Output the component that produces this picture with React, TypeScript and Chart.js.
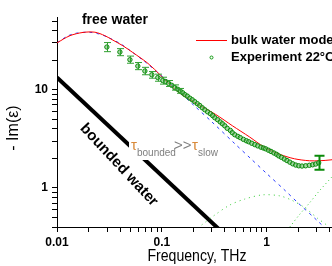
import React, { useEffect, useRef } from 'react';
import { Chart, registerables } from 'chart.js';

Chart.register(...registerables);

// ---- data ----
const modelFreq = [0.01, 0.0133, 0.0177, 0.023, 0.0286, 0.0341, 0.0425, 0.0529, 0.072, 0.0896, 0.107, 0.145, 0.206, 0.326, 0.47, 0.687, 0.95, 1.33, 1.84, 2.55, 3.17, 4.1, 5];
const modelVal = [30.0, 35.5, 38.3, 38.5, 35.5, 32.0, 28.0, 23.9, 18.9, 15.3, 12.6, 9.4, 7.4, 5.6, 4.3, 3.3, 2.6, 2.2, 1.98, 1.89, 1.89, 1.93, 2.0];

const slowFreq = [0.01, 0.0125, 0.015, 0.02, 0.025, 0.03, 0.04, 0.05, 0.07, 0.1, 0.15, 0.2, 0.3, 0.5, 0.7, 1, 1.5, 2, 3, 4, 5];
const slowVal = [30, 35, 37.5, 38.5, 37, 34.5, 29.5, 25, 19, 13.8, 9.3, 7.0, 4.7, 2.8, 2.0, 1.4, 0.94, 0.7, 0.47, 0.35, 0.28];

const fastFreq = [0.24, 0.32, 0.445, 0.617, 0.916, 1.33, 1.73, 2.3, 3.06, 3.81, 5];
const fastVal = [0.42, 0.53, 0.67, 0.77, 0.85, 0.83, 0.75, 0.63, 0.49, 0.41, 0.3];

const resFreq = [1.66, 2.04, 2.55, 3.17, 4.09, 5];
const resVal = [0.40, 0.53, 0.70, 0.93, 1.26, 1.6];

const boundFreq = [0.01, 0.4];
const boundVal = [13.3, 0.333];

const expFreq = [0.0299, 0.0398, 0.0496, 0.059, 0.0689, 0.0803, 0.0915, 0.102, 0.109, 0.116, 0.124, 0.133, 0.142, 0.15, 0.158, 0.166, 0.175, 0.185, 0.195, 0.206, 0.218, 0.23, 0.243, 0.257, 0.273, 0.29, 0.305, 0.32, 0.34, 0.36, 0.378, 0.398, 0.42, 0.45, 0.47, 0.496, 0.53, 0.56, 0.6, 0.64, 0.674, 0.72, 0.77, 0.82, 0.88, 0.93, 0.978, 1.04, 1.1, 1.17, 1.24, 1.3, 1.38, 1.47, 1.56, 1.66, 1.77, 1.89, 2.02, 2.17, 2.35, 2.55, 2.74, 2.93, 3.13];
const expVal = [27.2, 24.2, 20.2, 17.4, 15.5, 14.2, 13.3, 12.4, 12.1, 11.6, 11.1, 10.5, 10.1, 9.7, 9.3, 8.9, 8.6, 8.2, 7.9, 7.55, 7.2, 6.9, 6.55, 6.25, 5.95, 5.7, 5.45, 5.18, 4.95, 4.7, 4.5, 4.29, 4.05, 3.85, 3.65, 3.48, 3.35, 3.25, 3.12, 3.02, 2.95, 2.85, 2.76, 2.68, 2.6, 2.55, 2.5, 2.42, 2.35, 2.27, 2.2, 2.12, 2.05, 1.97, 1.9, 1.83, 1.76, 1.71, 1.68, 1.67, 1.68, 1.70, 1.72, 1.75, 1.80];

const errFreq = [0.0299, 0.0398, 0.0496, 0.059, 0.0689, 0.0803, 0.0915, 0.102, 0.116, 0.133, 0.15, 3.13];
const errLow = [24.4, 22.2, 18.6, 16.0, 14.2, 13.1, 12.2, 11.4, 10.8, 9.9, 9.2, 1.53];
const errHigh = [30.2, 26.2, 22.0, 18.9, 16.9, 15.3, 14.4, 13.4, 12.4, 11.2, 10.3, 2.12];

const xTicks = [0.01, 0.02, 0.03, 0.04, 0.05, 0.06, 0.07, 0.08, 0.09, 0.1, 0.2, 0.3, 0.4, 0.5, 0.6, 0.7, 0.8, 0.9, 1, 2, 3, 4, 5];
const xLabelValues = [0.01, 0.1, 1];
const xLabelTexts = ['0.01', '0.1', '1'];
const yTicks = [0.4, 0.5, 0.6, 0.7, 0.8, 0.9, 1, 2, 3, 4, 5, 6, 7, 8, 9, 10, 20, 30, 40, 50];
const yLabelValues = [1, 10];
const yLabelTexts = ['1', '10'];

const FONT = '"Liberation Sans", Arial, Helvetica, sans-serif';

const pts = (xs: number[], ys: number[]) => xs.map((x, i) => ({ x, y: ys[i] }));
const labelFor = (vals: number[], texts: string[]) => (v: any) => {
  const i = vals.findIndex((t) => Math.abs(t - Number(v)) < 1e-9);
  return i >= 0 ? texts[i] : '';
};

const overlay = {
  id: 'overlay',
  afterDatasetsDraw(chart: any) {
    const { ctx } = chart;
    const xs = chart.scales.x;
    const ys = chart.scales.y;
    ctx.save();
    for (let i = 0; i < errFreq.length; i++) {
      const px = Math.round(xs.getPixelForValue(errFreq[i])) + 0.5;
      const pl = ys.getPixelForValue(errLow[i]);
      const ph = ys.getPixelForValue(errHigh[i]);
      const last = i === errFreq.length - 1;
      ctx.strokeStyle = last ? '#0a8a0a' : '#2f9f2f';
      ctx.lineWidth = last ? 2 : 1;
      const cap = last ? 5 : 3.5;
      ctx.beginPath();
      ctx.moveTo(px, pl);
      ctx.lineTo(px, ph);
      ctx.moveTo(px - cap, pl);
      ctx.lineTo(px + cap, pl);
      ctx.moveTo(px - cap, ph);
      ctx.lineTo(px + cap, ph);
      ctx.stroke();
    }
    ctx.restore();
  },
  afterDraw(chart: any) {
    const { ctx } = chart;
    ctx.save();
    ctx.textBaseline = 'middle';
    // free water
    ctx.fillStyle = '#000';
    ctx.textAlign = 'center';
    ctx.font = `bold 14px ${FONT}`;
    ctx.fillText('free water', 115, 20);
    // legend
    ctx.strokeStyle = '#ff0000';
    ctx.lineWidth = 1;
    ctx.beginPath();
    ctx.moveTo(196, 40.5);
    ctx.lineTo(227, 40.5);
    ctx.stroke();
    ctx.strokeStyle = '#119911';
    ctx.beginPath();
    ctx.arc(211.5, 57.5, 1.5, 0, Math.PI * 2);
    ctx.stroke();
    ctx.textAlign = 'left';
    ctx.font = `bold 13px ${FONT}`;
    ctx.fillStyle = '#000';
    ctx.fillText('bulk water model', 231, 40);
    ctx.fillText('Experiment 22°C', 231, 57);
    // tau label on white box
    ctx.fillStyle = '#fff';
    ctx.fillRect(129, 135, 90, 25);
    ctx.textBaseline = 'alphabetic';
    ctx.font = `15px ${FONT}`;
    ctx.fillStyle = '#d98a3a';
    ctx.fillText('τ', 131, 150);
    ctx.font = `10px ${FONT}`;
    ctx.fillStyle = '#7f7f7f';
    ctx.fillText('bounded', 137, 156);
    ctx.font = `15px ${FONT}`;
    ctx.fillText('>>', 174, 150);
    ctx.fillStyle = '#d98a3a';
    ctx.fillText('τ', 192, 150);
    ctx.font = `10px ${FONT}`;
    ctx.fillStyle = '#7f7f7f';
    ctx.fillText('slow', 198, 156);
    // bounded water (rotated)
    ctx.save();
    ctx.translate(119, 165);
    ctx.rotate((47 * Math.PI) / 180);
    ctx.font = `bold 15px ${FONT}`;
    ctx.fillStyle = '#000';
    ctx.textAlign = 'center';
    ctx.textBaseline = 'middle';
    ctx.fillText('bounded water', 0, 0);
    ctx.restore();
    // axis titles
    ctx.fillStyle = '#000';
    ctx.textAlign = 'center';
    ctx.textBaseline = 'middle';
    ctx.save();
    ctx.translate(197, 257);
    ctx.scale(0.88, 1);
    ctx.font = `16px ${FONT}`;
    ctx.fillText('Frequency, THz', 0, 0);
    ctx.restore();
    ctx.save();
    ctx.translate(14, 128);
    ctx.rotate(-Math.PI / 2);
    ctx.font = `16px ${FONT}`;
    ctx.fillText('- Im(ε)', 0, 0);
    ctx.restore();
    ctx.restore();
  },
};

export default function App() {
  const ref = useRef<HTMLCanvasElement | null>(null);
  useEffect(() => {
    if (!ref.current) return;
    const tickFont = { family: FONT, size: 12, weight: 'bold' as const };
    const chart = new Chart(ref.current, {
      type: 'scatter',
      data: {
        datasets: [
          {
            label: 'Experiment 22°C',
            data: pts(expFreq, expVal),
            showLine: false,
            pointStyle: 'circle',
            pointRadius: 2.2,
            pointBorderWidth: 1,
            pointBorderColor: '#0b8a0b',
            pointBackgroundColor: 'rgba(110,190,110,0.6)',
          },
          {
            label: 'bulk water model',
            data: pts(modelFreq, modelVal),
            showLine: true,
            borderColor: '#ff0000',
            borderWidth: 1,
            pointRadius: 0,
            tension: 0.3,
          },
          {
            label: 'slow',
            data: pts(slowFreq, slowVal),
            showLine: true,
            borderColor: '#2a3cff',
            borderWidth: 1,
            borderDash: [3, 4],
            pointRadius: 0,
            tension: 0.3,
          },
          {
            label: 'fast',
            data: pts(fastFreq, fastVal),
            showLine: true,
            borderColor: '#33cc33',
            borderWidth: 1,
            borderDash: [1, 4],
            pointRadius: 0,
            tension: 0.3,
          },
          {
            label: 'res',
            data: pts(resFreq, resVal),
            showLine: true,
            borderColor: '#33cc33',
            borderWidth: 1,
            borderDash: [1, 3],
            pointRadius: 0,
            tension: 0.3,
          },
          {
            label: 'bounded water',
            data: pts(boundFreq, boundVal),
            showLine: true,
            borderColor: '#000',
            borderWidth: 4,
            pointRadius: 0,
          },
        ],
      },
      options: {
        animation: false,
        responsive: false,
        maintainAspectRatio: false,
        devicePixelRatio: 1,
        layout: { padding: { top: 17, right: 10, left: 0, bottom: 0 } },
        plugins: { legend: { display: false }, tooltip: { enabled: false } },
        scales: {
          x: {
            type: 'logarithmic',
            min: 0.01,
            max: 5,
            afterBuildTicks: (s: any) => {
              s.ticks = xTicks.map((v) => ({ value: v }));
            },
            afterFit: (s: any) => {
              s.height = 39;
            },
            grid: { drawOnChartArea: false, drawTicks: true, tickLength: 5, tickColor: '#000' },
            border: { display: true, color: '#000', width: 1 },
            ticks: {
              autoSkip: false,
              maxRotation: 0,
              padding: 3,
              color: '#000',
              font: tickFont,
              callback: labelFor(xLabelValues, xLabelTexts),
            },
          },
          y: {
            type: 'logarithmic',
            min: 0.4,
            max: 55,
            afterBuildTicks: (s: any) => {
              s.ticks = yTicks.map((v) => ({ value: v }));
            },
            afterFit: (s: any) => {
              s.width = 57;
            },
            grid: { drawOnChartArea: false, drawTicks: true, tickLength: 5, tickColor: '#000' },
            border: { display: true, color: '#000', width: 1 },
            ticks: {
              autoSkip: false,
              padding: 4,
              color: '#000',
              font: tickFont,
              callback: labelFor(yLabelValues, yLabelTexts),
            },
          },
        },
      },
      plugins: [overlay],
    });
    return () => chart.destroy();
  }, []);
  return (
    <div style={{ position: 'fixed', left: 0, top: 0, width: 332, height: 266, overflow: 'hidden', background: '#fff' }}>
      <canvas ref={ref} width={350} height={266} style={{ display: 'block', width: 350, height: 266 }} />
    </div>
  );
}
